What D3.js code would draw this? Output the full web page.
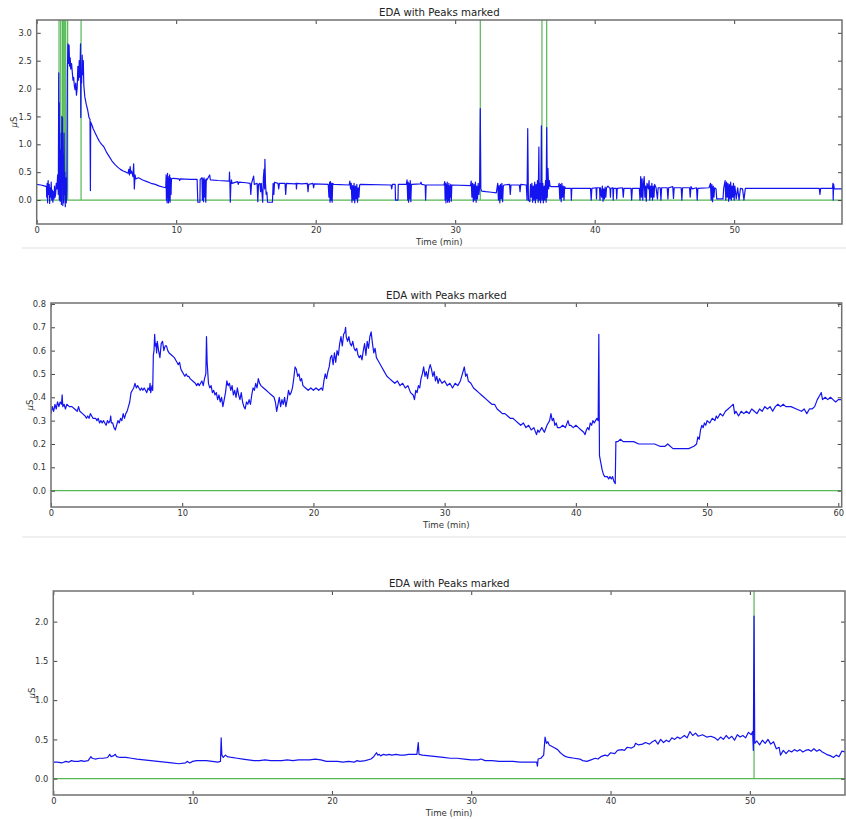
<!DOCTYPE html>
<html>
<head>
<meta charset="utf-8">
<script src="https://cdn.jsdelivr.net/npm/d3@7/dist/d3.min.js"></script>
<style>
  body { margin: 0; background: #fff; }
  svg { display: block; font-family: "DejaVu Sans", sans-serif; }
</style>
</head>
<body>
<svg id="chart" width="846" height="819"></svg>
<script>
// ---- Recording 1: EDA in microsiemens over time in minutes ----
const eda1 = [
[0.00,0.28],[0.30,0.27],[0.60,0.25],[0.70,0.24],
[0.72,0.05],[0.75,0.30],[0.78,-0.05],[0.82,0.35],[0.86,0.10],[0.90,0.28],[0.93,-0.06],[0.97,0.22],[1.00,0.05],[1.04,0.32],[1.08,0.00],[1.12,0.18],[1.16,-0.04],[1.20,0.15],[1.24,0.02],[1.28,0.25],[1.32,0.05],[1.36,0.12],[1.40,0.30],[1.45,0.20],[1.50,0.45],
[1.55,0.10],[1.58,2.28],[1.60,0.50],[1.62,1.75],[1.64,0.00],[1.66,0.60],[1.68,-0.02],[1.70,0.90],[1.72,0.20],[1.75,1.20],[1.77,-0.08],[1.80,1.50],[1.82,0.30],[1.85,1.48],[1.87,-0.10],[1.90,0.80],[1.93,-0.05],[1.96,1.20],[1.99,0.10],[2.02,0.50],[2.05,-0.12],[2.08,0.40],[2.12,-0.05],[2.16,0.20],
[2.20,2.30],[2.24,2.80],[2.28,2.45],[2.32,2.78],[2.36,2.40],[2.40,2.55],[2.44,2.35],[2.50,2.45],[2.55,2.30],[2.60,2.15],[2.65,2.20],[2.70,2.05],[2.75,1.98],[2.80,2.10],[2.85,1.88],[2.90,2.00],[2.95,2.40],[3.00,2.15],[3.05,2.50],[3.10,2.20],[3.14,2.80],[3.16,1.48],[3.18,2.30],[3.22,2.10],[3.26,2.60],[3.30,2.25],[3.34,2.50],[3.38,2.05],
[3.45,1.85],[3.55,1.72],[3.65,1.62],[3.75,1.48],[3.82,1.45],[3.85,0.17],[3.87,1.40],[3.95,1.35],[4.05,1.28],[4.20,1.20],[4.35,1.12],[4.50,1.05],[4.65,1.00],[4.80,0.96],[5.00,0.86],[5.20,0.78],[5.40,0.70],[5.60,0.64],[5.80,0.59],[6.00,0.55],[6.20,0.52],[6.40,0.50],[6.55,0.48],[6.60,0.55],[6.65,0.45],[6.70,0.60],[6.75,0.48],[6.80,0.52],[6.90,0.42],[6.95,0.65],[7.00,0.20],[7.05,0.45],[7.10,0.38],[7.30,0.40],[7.60,0.36],[7.90,0.33],[8.20,0.30],[8.50,0.28],[8.80,0.25],[9.10,0.23],[9.25,0.22],
[9.28,0.45],[9.30,0.00],[9.33,0.40],[9.35,-0.05],[9.38,0.48],[9.40,0.05],[9.43,0.42],[9.45,-0.05],[9.48,0.38],[9.50,0.00],[9.53,0.45],[9.56,-0.04],[9.60,0.40],[9.63,0.10],[9.66,0.38],
[9.80,0.39],[10.20,0.38],[10.25,0.35],[10.30,0.38],[11.00,0.37],[11.50,0.37],[11.55,-0.04],[11.70,-0.04],[11.72,0.37],
[11.85,0.40],[11.88,0.00],[11.92,0.38],[11.96,-0.03],[12.00,0.40],[12.04,0.05],[12.08,0.36],[12.12,-0.04],[12.16,0.38],[12.20,0.36],[12.40,0.45],[12.45,0.36],[13.00,0.35],[13.80,0.34],
[13.82,0.50],[13.85,0.30],[13.88,-0.04],[13.92,0.30],[13.96,0.36],[14.00,0.30],[14.40,0.33],[14.45,0.28],[14.50,0.32],[15.00,0.31],[15.30,0.30],[15.35,0.10],[15.40,0.30],[15.55,0.43],[15.60,0.28],[15.80,0.30],[15.85,-0.03],[15.90,0.28],[16.00,0.30],[16.05,0.15],[16.10,0.30],
[16.20,-0.04],[16.25,0.40],[16.30,0.55],[16.33,0.20],[16.36,0.73],[16.40,0.30],[16.45,0.10],[16.50,0.14],[16.55,-0.04],[16.90,-0.04],[16.95,0.30],[17.00,0.10],[17.05,0.32],[17.30,0.30],[17.35,0.20],[17.40,0.30],
[17.80,0.30],[17.85,0.10],[17.90,0.30],[18.50,0.29],[18.60,0.30],[18.62,0.20],[18.65,0.30],[19.00,0.29],[19.40,0.30],[19.45,0.15],[19.50,0.28],[19.80,0.30],[19.85,0.22],[19.90,0.29],
[20.90,0.28],[20.95,0.05],[21.00,0.32],[21.03,-0.04],[21.06,0.33],[21.10,0.00],[21.14,0.30],[21.18,-0.04],[21.22,0.30],
[21.30,0.28],[22.40,0.27],
[22.45,0.34],[22.50,0.20],[22.55,0.30],[22.60,-0.04],[22.65,0.26],[22.70,0.00],[22.75,0.30],[22.80,-0.05],[22.85,0.25],[22.90,0.02],[22.95,0.28],[23.00,-0.04],[23.05,0.22],[23.10,0.05],[23.15,0.27],
[23.20,0.28],[25.40,0.27],[25.45,0.20],[25.50,0.28],[25.70,0.28],[25.72,0.00],[25.90,0.00],[25.92,0.28],[26.50,0.28],
[26.55,0.36],[26.60,0.00],[26.63,0.32],[26.66,-0.04],[26.70,0.30],[26.74,0.02],[26.78,0.35],[26.82,-0.03],[26.86,0.28],
[26.90,0.28],[27.50,0.29],[27.55,0.32],[27.60,0.28],[27.85,0.27],[27.88,0.00],[27.92,0.27],[29.20,0.27],
[29.25,0.33],[29.28,0.00],[29.31,0.30],[29.34,-0.05],[29.37,0.28],[29.40,0.02],[29.43,0.32],[29.46,-0.04],[29.49,0.26],[29.52,0.00],[29.55,0.30],[29.58,-0.04],[29.61,0.25],[29.64,0.05],[29.68,0.28],[29.72,-0.02],[29.76,0.27],
[29.80,0.27],[31.10,0.26],
[31.15,0.34],[31.20,0.05],[31.25,0.30],[31.30,-0.03],[31.35,0.28],[31.40,0.00],[31.45,0.32],[31.50,-0.04],[31.55,0.25],[31.60,0.02],[31.65,0.30],[31.70,0.10],[31.75,0.22],
[31.80,1.64],[31.84,0.20],[31.90,0.16],[32.20,0.15],[32.60,0.14],[32.95,0.13],
[33.05,0.30],[33.10,0.00],[33.15,0.26],[33.20,-0.05],[33.25,0.28],[33.30,0.02],[33.35,0.30],[33.40,-0.03],[33.45,0.25],[33.50,0.27],
[33.90,0.28],[33.95,0.10],[34.00,0.27],[34.60,0.27],[34.65,0.15],[34.70,0.28],[35.10,0.27],
[35.15,0.00],[35.20,1.28],[35.25,0.00],[35.35,-0.03],[35.40,0.28],
[35.45,0.05],[35.50,0.30],[35.55,-0.04],[35.60,0.25],[35.65,0.00],[35.70,0.32],[35.75,-0.05],[35.80,0.28],[35.85,0.02],[35.90,0.35],[35.95,-0.04],[36.00,0.95],[36.03,0.00],[36.08,0.30],[36.12,-0.05],[36.15,0.40],[36.18,1.33],[36.22,0.00],[36.28,0.30],[36.32,-0.05],[36.38,0.25],[36.42,0.00],[36.48,0.35],[36.52,-0.04],[36.56,1.30],[36.60,0.05],[36.65,0.57],[36.70,0.20],[36.75,0.35],[36.80,0.25],
[36.90,0.24],[37.40,0.24],
[37.45,0.30],[37.50,0.02],[37.55,0.28],[37.60,-0.03],[37.65,0.30],[37.70,0.05],[37.75,0.25],[37.80,0.00],[37.85,0.24],
[37.90,0.21],[38.30,0.21],[38.33,0.00],[38.36,0.21],[39.70,0.21],
[39.75,0.00],[39.80,0.21],[40.10,0.22],[40.13,0.02],[40.16,0.22],[40.35,0.22],[40.38,0.00],[40.42,0.22],[40.50,0.05],[40.55,0.25],[40.60,-0.02],[40.65,0.20],[40.70,0.02],[40.75,0.23],[40.80,0.05],[40.85,0.22],[40.95,0.25],[41.10,0.21],[41.13,0.05],[41.16,0.21],[41.30,0.22],[41.33,0.00],[41.36,0.21],[41.55,0.21],[41.58,0.02],[41.62,0.21],
[42.00,0.22],[42.05,0.05],[42.10,0.21],[42.60,0.21],[42.65,0.00],[42.70,0.21],[43.20,0.21],
[43.25,0.00],[43.30,0.42],[43.35,0.05],[43.40,0.38],[43.45,0.00],[43.50,0.30],[43.55,0.42],[43.60,0.05],[43.65,0.25],[43.70,-0.02],[43.75,0.30],[43.85,0.20],[43.90,0.35],[43.95,0.00],[44.00,0.25],[44.05,0.05],[44.10,0.30],[44.15,0.00],[44.20,0.25],[44.25,0.05],[44.30,0.28],[44.40,0.22],[44.50,0.02],[44.55,0.22],
[44.70,0.22],[44.75,0.00],[44.80,0.22],[45.20,0.22],[45.25,0.02],[45.30,0.22],[45.60,0.24],[45.65,0.03],[45.70,0.22],[46.20,0.22],[46.25,0.00],[46.30,0.22],[46.80,0.22],[46.85,0.05],[46.90,0.24],[47.00,0.20],[47.30,0.22],[47.35,0.00],[47.40,0.21],[48.20,0.22],
[48.30,0.30],[48.35,0.00],[48.40,0.28],[48.45,-0.03],[48.50,0.25],[48.55,0.05],[48.60,0.22],
[48.70,0.20],[48.75,0.02],[49.20,0.02],[49.25,0.21],
[49.35,0.35],[49.40,0.00],[49.45,0.32],[49.50,0.05],[49.55,0.30],[49.60,-0.02],[49.65,0.28],[49.70,0.02],[49.75,0.32],[49.80,0.00],[49.85,0.25],[49.90,0.05],[49.95,0.30],[50.00,0.00],[50.05,0.25],[50.15,0.02],[50.25,0.22],[50.35,0.00],[50.45,0.21],[50.60,0.20],[50.70,0.00],[50.80,0.21],
[51.00,0.21],[56.10,0.21],[56.15,0.10],[56.20,0.21],[57.05,0.21],[57.08,0.30],[57.10,0.00],[57.13,0.28],[57.18,0.20],[57.40,0.20],[57.73,0.20]
];
const peaks1 = [1.60, 1.72, 1.84, 1.90, 1.96, 2.02, 2.08, 2.22, 3.18, 31.80, 36.22, 36.56];

// ---- Recording 2 ----
const eda2 = [
[0.00,0.33],[0.10,0.36],[0.20,0.34],[0.30,0.37],[0.40,0.35],[0.50,0.38],[0.60,0.36],[0.70,0.38],[0.80,0.37],[0.85,0.41],[0.90,0.36],[1.00,0.37],[1.10,0.35],[1.20,0.37],[1.40,0.36],[1.60,0.36],[1.80,0.35],[2.00,0.34],[2.10,0.36],[2.20,0.34],[2.40,0.33],[2.60,0.32],[2.70,0.31],[2.80,0.32],[2.90,0.31],[3.00,0.33],[3.10,0.32],[3.20,0.31],[3.40,0.31],[3.50,0.30],[3.60,0.31],[3.70,0.29],[3.80,0.30],[3.90,0.29],[4.00,0.30],[4.10,0.29],[4.20,0.28],[4.30,0.30],[4.40,0.29],[4.50,0.30],[4.55,0.32],[4.60,0.29],[4.70,0.29],[4.80,0.27],[4.90,0.26],[5.00,0.28],[5.10,0.30],[5.20,0.29],[5.30,0.31],[5.40,0.30],[5.50,0.33],[5.60,0.31],[5.70,0.33],[5.80,0.34],[5.90,0.36],[6.00,0.38],[6.10,0.42],[6.20,0.43],[6.30,0.44],[6.40,0.46],[6.50,0.44],[6.60,0.45],[6.70,0.44],[6.80,0.43],[6.90,0.44],[7.00,0.43],[7.10,0.44],[7.20,0.43],[7.30,0.42],[7.40,0.44],[7.50,0.43],[7.55,0.46],[7.60,0.42],[7.70,0.45],[7.75,0.43],[7.80,0.58],[7.85,0.60],[7.90,0.67],[7.95,0.62],[8.00,0.63],[8.05,0.59],[8.10,0.64],[8.20,0.60],[8.30,0.57],[8.40,0.63],[8.50,0.64],[8.60,0.60],[8.70,0.62],[8.80,0.62],[8.90,0.60],[9.00,0.59],[9.20,0.58],[9.40,0.57],[9.50,0.56],[9.60,0.55],[9.70,0.54],[9.80,0.55],[9.90,0.52],[10.00,0.51],[10.10,0.50],[10.20,0.49],[10.30,0.50],[10.40,0.49],[10.50,0.49],[10.60,0.48],[10.80,0.47],[11.00,0.46],[11.10,0.45],[11.20,0.46],[11.30,0.45],[11.40,0.46],[11.50,0.47],[11.60,0.45],[11.70,0.48],[11.80,0.50],[11.85,0.66],[11.90,0.55],[12.00,0.46],[12.10,0.44],[12.20,0.45],[12.30,0.42],[12.40,0.43],[12.50,0.41],[12.60,0.42],[12.70,0.39],[12.80,0.41],[12.90,0.38],[13.00,0.40],[13.10,0.36],[13.20,0.39],[13.30,0.42],[13.40,0.47],[13.50,0.45],[13.60,0.46],[13.70,0.43],[13.80,0.45],[13.90,0.41],[14.00,0.43],[14.10,0.40],[14.20,0.44],[14.30,0.41],[14.40,0.39],[14.50,0.42],[14.60,0.38],[14.70,0.36],[14.80,0.35],[14.90,0.38],[15.00,0.37],[15.10,0.39],[15.20,0.37],[15.30,0.41],[15.40,0.44],[15.50,0.43],[15.60,0.46],[15.70,0.44],[15.80,0.48],[15.90,0.46],[16.00,0.45],[16.20,0.44],[16.40,0.43],[16.60,0.42],[16.80,0.41],[17.00,0.40],[17.10,0.38],[17.20,0.34],[17.30,0.37],[17.40,0.40],[17.50,0.36],[17.60,0.39],[17.70,0.37],[17.80,0.40],[17.90,0.36],[18.00,0.39],[18.10,0.43],[18.20,0.41],[18.30,0.42],[18.40,0.44],[18.50,0.48],[18.60,0.53],[18.70,0.52],[18.80,0.49],[18.90,0.50],[19.00,0.47],[19.10,0.48],[19.20,0.45],[19.40,0.44],[19.60,0.43],[19.80,0.44],[20.00,0.43],[20.20,0.44],[20.40,0.43],[20.60,0.44],[20.70,0.43],[20.80,0.47],[20.90,0.50],[21.00,0.48],[21.10,0.51],[21.20,0.53],[21.30,0.57],[21.40,0.58],[21.50,0.54],[21.60,0.59],[21.70,0.55],[21.80,0.60],[21.90,0.58],[22.00,0.63],[22.10,0.66],[22.20,0.62],[22.30,0.67],[22.40,0.68],[22.45,0.70],[22.50,0.66],[22.60,0.64],[22.70,0.66],[22.80,0.63],[22.90,0.62],[23.00,0.64],[23.10,0.61],[23.20,0.60],[23.30,0.61],[23.40,0.58],[23.50,0.57],[23.60,0.58],[23.70,0.56],[23.80,0.60],[23.90,0.63],[24.00,0.58],[24.10,0.64],[24.20,0.61],[24.30,0.66],[24.40,0.68],[24.50,0.63],[24.60,0.59],[24.70,0.61],[24.80,0.57],[24.90,0.56],[25.00,0.55],[25.20,0.53],[25.40,0.51],[25.60,0.49],[25.80,0.48],[26.00,0.47],[26.20,0.46],[26.40,0.47],[26.60,0.45],[26.80,0.46],[27.00,0.44],[27.20,0.45],[27.40,0.42],[27.60,0.41],[27.70,0.39],[27.80,0.43],[27.90,0.42],[28.00,0.45],[28.10,0.44],[28.20,0.48],[28.30,0.50],[28.40,0.53],[28.50,0.49],[28.60,0.51],[28.70,0.48],[28.80,0.52],[28.90,0.54],[29.00,0.52],[29.10,0.49],[29.20,0.51],[29.30,0.47],[29.40,0.49],[29.50,0.46],[29.60,0.48],[29.80,0.46],[30.00,0.47],[30.20,0.45],[30.40,0.46],[30.60,0.44],[30.80,0.46],[31.00,0.45],[31.20,0.47],[31.40,0.51],[31.50,0.53],[31.60,0.49],[31.70,0.50],[31.80,0.47],[32.00,0.46],[32.20,0.44],[32.40,0.43],[32.60,0.42],[32.80,0.41],[33.00,0.40],[33.20,0.39],[33.40,0.38],[33.60,0.37],[33.80,0.37],[34.00,0.35],[34.20,0.34],[34.40,0.33],[34.60,0.33],[34.80,0.32],[35.00,0.31],[35.20,0.31],[35.40,0.30],[35.60,0.29],[35.80,0.28],[36.00,0.29],[36.20,0.27],[36.40,0.28],[36.60,0.26],[36.80,0.27],[37.00,0.24],[37.10,0.26],[37.20,0.25],[37.40,0.27],[37.60,0.25],[37.80,0.28],[38.00,0.30],[38.10,0.33],[38.20,0.30],[38.30,0.31],[38.40,0.28],[38.50,0.29],[38.60,0.27],[38.80,0.27],[39.00,0.28],[39.20,0.27],[39.40,0.30],[39.50,0.28],[39.60,0.28],[39.80,0.27],[40.00,0.28],[40.20,0.27],[40.40,0.26],[40.60,0.25],[40.70,0.24],[40.80,0.26],[40.90,0.27],[41.00,0.26],[41.10,0.29],[41.20,0.28],[41.30,0.30],[41.40,0.29],[41.50,0.30],[41.60,0.31],[41.70,0.30],[41.75,0.67],[41.80,0.15],[41.90,0.12],[42.00,0.09],[42.10,0.07],[42.20,0.06],[42.40,0.06],[42.50,0.05],[42.60,0.06],[42.70,0.05],[42.80,0.06],[42.90,0.04],[43.00,0.03],[43.05,0.21],[43.20,0.21],[43.40,0.22],[43.60,0.21],[44.00,0.21],[44.40,0.21],[44.80,0.20],[45.20,0.20],[45.60,0.20],[46.00,0.20],[46.40,0.19],[46.80,0.19],[47.00,0.20],[47.40,0.18],[47.80,0.18],[48.20,0.18],[48.60,0.18],[49.00,0.19],[49.20,0.20],[49.30,0.23],[49.40,0.22],[49.50,0.26],[49.60,0.28],[49.70,0.27],[49.80,0.29],[49.90,0.28],[50.00,0.30],[50.20,0.29],[50.40,0.31],[50.60,0.30],[50.70,0.32],[50.80,0.31],[51.00,0.33],[51.20,0.32],[51.40,0.34],[51.60,0.35],[51.80,0.36],[52.00,0.37],[52.10,0.33],[52.20,0.34],[52.40,0.32],[52.60,0.34],[52.80,0.33],[53.00,0.34],[53.20,0.33],[53.40,0.35],[53.60,0.34],[53.80,0.33],[54.00,0.35],[54.20,0.34],[54.40,0.36],[54.60,0.35],[54.80,0.36],[55.00,0.34],[55.20,0.36],[55.40,0.37],[55.60,0.36],[55.80,0.37],[56.00,0.36],[56.40,0.36],[56.80,0.35],[57.20,0.34],[57.40,0.35],[57.60,0.33],[57.80,0.35],[58.00,0.35],[58.20,0.36],[58.40,0.39],[58.60,0.41],[58.70,0.42],[58.80,0.39],[59.00,0.40],[59.20,0.39],[59.40,0.40],[59.60,0.39],[59.80,0.38],[60.00,0.39],[60.26,0.39]
];
const peaks2 = [];

// ---- Recording 3 ----
const eda3 = [
[0.00,0.21],[0.30,0.21],[0.60,0.20],[0.90,0.22],[1.10,0.21],[1.30,0.23],[1.50,0.22],[1.80,0.22],[2.00,0.23],[2.20,0.22],[2.50,0.23],[2.70,0.28],[2.80,0.26],[3.00,0.25],[3.30,0.26],[3.60,0.26],[3.90,0.27],[4.05,0.31],[4.15,0.28],[4.30,0.29],[4.45,0.31],[4.55,0.28],[4.80,0.27],[5.20,0.27],[5.60,0.26],[6.00,0.25],[6.50,0.24],[7.00,0.23],[7.50,0.22],[8.00,0.21],[8.50,0.20],[9.00,0.19],[9.50,0.20],[9.60,0.22],[9.80,0.20],[10.00,0.22],[10.30,0.23],[10.70,0.23],[11.00,0.23],[11.40,0.22],[11.80,0.21],[12.00,0.22],[12.05,0.52],[12.10,0.30],[12.20,0.27],[12.35,0.30],[12.50,0.28],[12.80,0.27],[13.20,0.26],[13.60,0.25],[14.00,0.24],[14.40,0.23],[14.80,0.23],[15.20,0.24],[15.60,0.23],[16.00,0.23],[16.40,0.23],[16.80,0.24],[17.20,0.23],[17.60,0.24],[18.00,0.24],[18.40,0.24],[18.80,0.25],[19.20,0.24],[19.60,0.22],[20.00,0.22],[20.40,0.22],[20.80,0.21],[21.20,0.22],[21.60,0.21],[21.80,0.23],[22.00,0.22],[22.40,0.23],[22.80,0.25],[23.00,0.28],[23.20,0.33],[23.30,0.30],[23.40,0.31],[23.50,0.29],[23.70,0.31],[23.90,0.30],[24.10,0.31],[24.30,0.30],[24.60,0.31],[24.90,0.30],[25.20,0.30],[25.50,0.31],[25.80,0.31],[26.10,0.31],[26.20,0.46],[26.25,0.31],[26.50,0.30],[27.00,0.29],[27.50,0.28],[28.00,0.27],[28.50,0.26],[29.00,0.26],[29.50,0.25],[30.00,0.24],[30.50,0.24],[30.70,0.25],[31.00,0.23],[31.50,0.23],[32.00,0.22],[32.50,0.22],[33.00,0.22],[33.50,0.21],[34.00,0.21],[34.50,0.21],[34.70,0.21],[34.75,0.16],[34.80,0.25],[35.00,0.26],[35.20,0.30],[35.30,0.53],[35.40,0.45],[35.50,0.47],[35.60,0.43],[35.80,0.41],[36.00,0.39],[36.20,0.37],[36.40,0.33],[36.60,0.30],[36.80,0.28],[37.00,0.27],[37.40,0.26],[37.80,0.25],[38.00,0.23],[38.30,0.22],[38.60,0.24],[38.90,0.26],[39.10,0.25],[39.30,0.28],[39.60,0.30],[39.80,0.29],[40.00,0.33],[40.30,0.32],[40.50,0.36],[40.80,0.37],[41.00,0.36],[41.20,0.40],[41.50,0.39],[41.70,0.41],[41.80,0.45],[42.00,0.43],[42.30,0.44],[42.50,0.46],[42.80,0.44],[43.00,0.47],[43.20,0.49],[43.40,0.44],[43.60,0.50],[43.80,0.46],[44.00,0.49],[44.20,0.47],[44.40,0.52],[44.60,0.50],[44.80,0.53],[45.00,0.51],[45.30,0.55],[45.50,0.52],[45.70,0.60],[45.90,0.55],[46.10,0.58],[46.30,0.54],[46.60,0.56],[46.90,0.53],[47.20,0.54],[47.50,0.52],[47.70,0.49],[47.90,0.53],[48.10,0.50],[48.30,0.55],[48.50,0.51],[48.70,0.54],[48.90,0.49],[49.10,0.56],[49.30,0.53],[49.50,0.55],[49.70,0.52],[49.90,0.59],[50.10,0.56],[50.20,0.60],[50.25,0.36],[50.30,2.07],[50.35,0.45],[50.50,0.48],[50.70,0.43],[50.90,0.49],[51.10,0.45],[51.30,0.50],[51.50,0.44],[51.70,0.47],[51.90,0.38],[52.10,0.40],[52.20,0.30],[52.40,0.36],[52.60,0.32],[52.80,0.36],[53.00,0.34],[53.20,0.37],[53.40,0.35],[53.60,0.37],[53.80,0.34],[54.00,0.36],[54.20,0.37],[54.40,0.35],[54.60,0.38],[54.80,0.35],[55.00,0.37],[55.20,0.34],[55.50,0.31],[55.80,0.29],[56.00,0.27],[56.20,0.30],[56.40,0.28],[56.60,0.35],[56.83,0.34]
];
const peaks3 = [50.30];

// Tick values per recording
const xTicks1 = [0, 10, 20, 30, 40, 50];
const yTicks1 = [0.0, 0.5, 1.0, 1.5, 2.0, 2.5, 3.0];
const xTicks2 = [0, 10, 20, 30, 40, 50, 60];
const yTicks2 = [0.0, 0.1, 0.2, 0.3, 0.4, 0.5, 0.6, 0.7, 0.8];
const xTicks3 = [0, 10, 20, 30, 40, 50];
const yTicks3 = [0.0, 0.5, 1.0, 1.5, 2.0];

const titleText = "EDA with Peaks marked";
const xLabelText = "Time (min)";

// Layout of each stacked figure
const panels = [
  { data: eda1, peaks: peaks1, xTicks: xTicks1, yTicks: yTicks1,
    box: { l: 36.7, r: 842, t: 20, b: 224 }, xDom: [0, 57.73], yDom: [-0.43, 3.23],
    yLabelX: 14 },
  { data: eda2, peaks: peaks2, xTicks: xTicks2, yTicks: yTicks2,
    box: { l: 51, r: 841.7, t: 303, b: 507 }, xDom: [0, 60.26], yDom: [-0.07, 0.804],
    yLabelX: 30 },
  { data: eda3, peaks: peaks3, xTicks: xTicks3, yTicks: yTicks3,
    box: { l: 53.3, r: 845, t: 591, b: 795 }, xDom: [0, 56.83], yDom: [-0.208, 2.39],
    yLabelX: 32 }
];

const svg = d3.select("#chart");
const BLUE = "#1414f0";
const GREEN = "#55b855";
const FRAME = "#707070";
const TEXT = "#333";

// faint separators between the stacked figures
[248, 537].forEach(yy => {
  svg.append("line").attr("x1", 22).attr("x2", 846).attr("y1", yy).attr("y2", yy)
    .attr("stroke", "#e2e2e2").attr("stroke-width", 1.2);
});

panels.forEach((p, i) => {
  const W = p.box.r - p.box.l, H = p.box.b - p.box.t;
  const x = d3.scaleLinear().domain(p.xDom).range([0, W]);
  const y = d3.scaleLinear().domain(p.yDom).range([H, 0]);
  const g = svg.append("g").attr("transform", `translate(${p.box.l},${p.box.t})`);

  const clipId = "clip" + i;
  g.append("clipPath").attr("id", clipId).append("rect")
    .attr("x", 0).attr("y", 0).attr("width", W).attr("height", H);

  const plot = g.append("g").attr("clip-path", `url(#${clipId})`);

  // peak markers: zero baseline with vertical strokes at each detected peak
  plot.append("line")
    .attr("x1", x(p.xDom[0])).attr("x2", x(p.xDom[1]))
    .attr("y1", y(0)).attr("y2", y(0))
    .attr("stroke", GREEN).attr("stroke-width", 1.2);
  plot.selectAll("line.peak").data(p.peaks).join("line")
    .attr("class", "peak")
    .attr("x1", d => x(d)).attr("x2", d => x(d))
    .attr("y1", y(0)).attr("y2", y(p.yDom[1]) - 5)
    .attr("stroke", GREEN).attr("stroke-width", 1.2);

  // EDA trace
  const line = d3.line().x(d => x(d[0])).y(d => y(d[1]));
  plot.append("path").datum(p.data)
    .attr("d", line)
    .attr("fill", "none").attr("stroke", BLUE)
    .attr("stroke-width", 1.2).attr("stroke-linejoin", "round");

  // axes with inward ticks on all four sides
  const tickLen = 4;
  const fmtY = d3.format(".1f");
  const xb = g.append("g").attr("transform", `translate(0,${H})`)
    .call(d3.axisBottom(x).tickValues(p.xTicks).tickFormat(d3.format("d"))
      .tickSizeInner(-tickLen).tickSizeOuter(0).tickPadding(3.5));
  const xt = g.append("g")
    .call(d3.axisTop(x).tickValues(p.xTicks).tickFormat("")
      .tickSizeInner(-tickLen).tickSizeOuter(0));
  const yl = g.append("g")
    .call(d3.axisLeft(y).tickValues(p.yTicks).tickFormat(fmtY)
      .tickSizeInner(-tickLen).tickSizeOuter(0).tickPadding(5));
  const yr = g.append("g").attr("transform", `translate(${W},0)`)
    .call(d3.axisRight(y).tickValues(p.yTicks).tickFormat("")
      .tickSizeInner(-tickLen).tickSizeOuter(0));

  [xb, xt, yl, yr].forEach(a => {
    a.select(".domain").remove();
    a.selectAll(".tick line").attr("stroke", "#444").attr("stroke-width", 1);
    a.selectAll(".tick text").attr("fill", TEXT)
      .style("font-family", '"DejaVu Sans", sans-serif').style("font-size", "8.3px");
  });

  // frame
  g.append("rect").attr("x", 0).attr("y", 0).attr("width", W).attr("height", H)
    .attr("fill", "none").attr("stroke", FRAME).attr("stroke-width", 1.5);

  // title and axis labels
  g.append("text").attr("x", W / 2).attr("y", -4)
    .attr("text-anchor", "middle").attr("fill", "#222")
    .style("font-size", "10.2px").text(titleText);
  g.append("text").attr("x", W / 2).attr("y", H + 20.5)
    .attr("text-anchor", "middle").attr("fill", TEXT)
    .style("font-size", "8.6px").text(xLabelText);
  const yl2 = svg.append("text")
    .attr("transform", `translate(${p.yLabelX + 3},${p.box.t + H / 2}) rotate(-90)`)
    .attr("text-anchor", "middle").attr("fill", TEXT).style("font-size", "8.6px");
  yl2.append("tspan").style("font-style", "italic").text("μ");
  yl2.append("tspan").text("S");
});
</script>
</body>
</html>
